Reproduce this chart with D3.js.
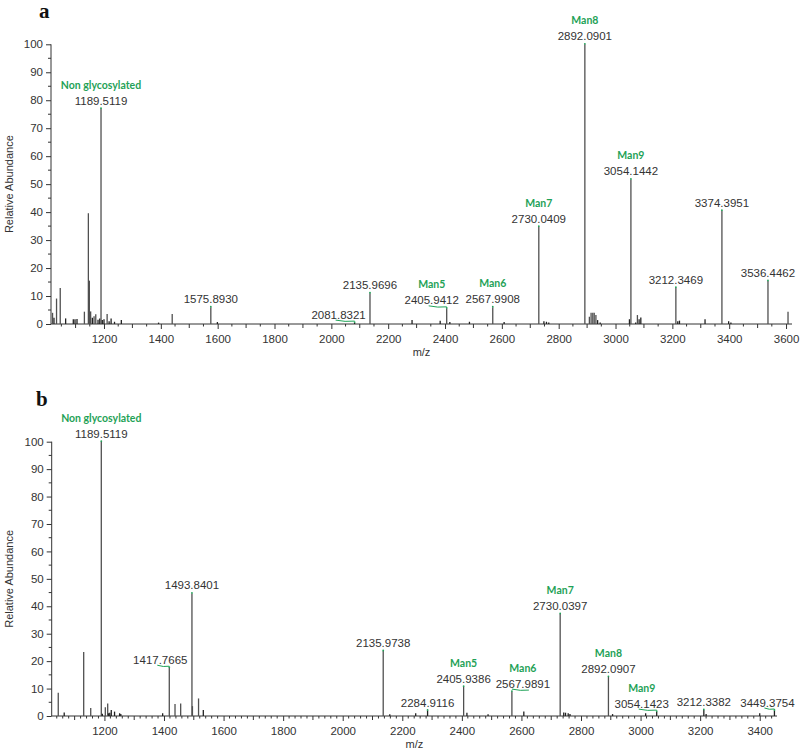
<!DOCTYPE html>
<html><head><meta charset="utf-8">
<script src="https://cdn.jsdelivr.net/npm/d3@7"></script>
<style>body{margin:0;background:#fff}svg{display:block}</style>
</head><body><svg id="c" width="800" height="752"></svg>
<script>
// ---------- Panel a : spectrum ----------
const mzA = [1019,1024,1033,1046,1065,1092,1098,1105,1131,1145,1148.5,1153,1159,1165,1171,1179,1185,1189.5119,1194,1200,1211,1218,1225,1237,1261,1392,1440,1575.8930,1599,2081.8321,2135.9696,2284,2383,2405.9412,2417,2486,2567.9908,2608,2730.0409,2748,2757,2765,2892.0901,2908,2914,2920,2925,2931,2937,2946,3049,3054.1442,3071,3077,3083,3089,3212.3469,3219,3225,3315,3374.3951,3398,3406,3536.4462,3607];
const intA = [4.0,2.2,9.1,12.9,2.0,1.7,1.7,1.8,4.4,39.6,15.5,4.5,2.2,2.8,3.5,1.5,2.0,77.0,1.4,1.7,3.6,1.0,2.0,0.8,1.4,0.5,3.6,6.0,0.7,0.5,11.0,1.4,1.2,5.6,0.7,0.8,6.0,0.7,34.8,1.0,0.8,0.5,100,2.6,4.0,4.0,4.0,3.2,1.4,0.5,1.7,51.7,0.5,3.2,1.7,2.3,13.0,1.0,1.2,1.7,40.5,1.0,0.5,15.4,4.4];
const annMzA = [1189.5119,1575.8930,2081.8321,2135.9696,2405.9412,2567.9908,2730.0409,2892.0901,3054.1442,3212.3469,3374.3951,3536.4462];
const annTextA = ["1189.5119","1575.8930","2081.8321","2135.9696","2405.9412","2567.9908","2730.0409","2892.0901","3054.1442","3212.3469","3374.3951","3536.4462"];
const annNameA = ["Non glycosylated","","","","Man5","Man6","Man7","Man8","Man9","","",""];

// ---------- Panel b : spectrum ----------
const mzB = [1045,1065,1130.4,1154,1189.5119,1193,1203,1211,1214,1218,1223,1234,1251,1255,1395.5,1417.7665,1437,1456,1493.8401,1495.5,1516,1532,2135.9738,2158,2245,2284.9116,2405.9386,2417,2488,2567.9891,2608,2730.0397,2742,2748,2757,2763,2892.0907,2906,3017,3054.1423,3212.3382,3220,3400,3449.3754];
const intB = [8.5,1.3,23.3,2.9,100,0.8,3.2,4.6,1.0,1.2,2.2,1.6,1.0,0.7,1.0,17.6,4.4,4.6,44.7,3.6,6.4,2.2,23.7,0.6,1.0,2.0,10.7,1.2,0.6,8.9,1.6,37.2,1.3,1.2,1.0,0.7,14.3,0.7,1.0,1.6,2.2,0.7,1.0,2.0];
const annMzB = [1189.5119,1417.7665,1493.8401,2135.9738,2284.9116,2405.9386,2567.9891,2730.0397,2892.0907,3054.1423,3212.3382,3449.3754];
const annTextB = ["1189.5119","1417.7665","1493.8401","2135.9738","2284.9116","2405.9386","2567.9891","2730.0397","2892.0907","3054.1423","3212.3382","3449.3754"];
const annNameB = ["Non glycosylated","","","","","Man5","Man6","Man7","Man8","Man9","",""];

// ---------- Axis tick labels ----------
const xTickLabelsA = [1200,1400,1600,1800,2000,2200,2400,2600,2800,3000,3200,3400,3600];
const xTickLabelsB = [1200,1400,1600,1800,2000,2200,2400,2600,2800,3000,3200,3400];
const yTickLabels = [0,10,20,30,40,50,60,70,80,90,100];

// ---------- layout (not data) ----------
const GREEN = "#1fa257";
const svg = d3.select("#c");
const panels = [
  {letter:"a", letterX:39, letterY:18, mz:mzA, it:intA, ann:annMzA, annT:annTextA, annN:annNameA, xl:xTickLabelsA,
   dom:[1013.5,3621], xr:[51,792], yr:[324,44.3], minorStep:50, nudge:{"2081.8321":-16,"2405.9412":-15}},
  {letter:"b", letterX:36, letterY:406, mz:mzB, it:intB, ann:annMzB, annT:annTextB, annN:annNameB, xl:xTickLabelsB,
   dom:[1023,3458], xr:[51.7,777], yr:[716,441.7], minorStep:20, nudge:{"1417.7665":-9,"2567.9891":11,"3054.1423":-15,"3449.3754":-7}}
];

panels.forEach(p => {
  const x = d3.scaleLinear().domain(p.dom).range(p.xr);
  const y = d3.scaleLinear().domain([0,100]).range(p.yr);
  const g = svg.append("g");

  // panel letter
  g.append("text").attr("x",p.letterX).attr("y",p.letterY)
    .attr("font-family","Liberation Serif, DejaVu Serif, serif").attr("font-weight","bold")
    .attr("font-size",21).attr("fill","#111").text(p.letter);

  // y axis
  const yAx = d3.axisLeft(y).tickValues(yTickLabels).tickSize(5).tickPadding(3).tickFormat(d3.format("d"));
  const ya = g.append("g").attr("transform",`translate(${p.xr[0]},0)`).call(yAx);
  ya.select(".domain").attr("stroke","#333").attr("d",`M0,${p.yr[0]}V${p.yr[1]}`);
  ya.selectAll(".tick line").attr("stroke","#333");
  ya.selectAll(".tick text").attr("font-family","Liberation Sans, Arial, sans-serif").attr("font-size",11.5).attr("fill","#333");
  // minor y ticks
  const yMinor = d3.range(5,100,10);
  g.append("g").selectAll("line").data(yMinor).join("line")
    .attr("x1",p.xr[0]-3).attr("x2",p.xr[0]).attr("y1",d=>y(d)).attr("y2",d=>y(d)).attr("stroke","#333");

  // x axis
  const xAx = d3.axisBottom(x).tickValues(p.xl).tickSize(5).tickPadding(6).tickFormat(d3.format("d"));
  const xa = g.append("g").attr("transform",`translate(0,${p.yr[0]})`).call(xAx);
  xa.select(".domain").attr("stroke","#333").attr("d",`M${p.xr[0]},0H${p.xr[1]}`);
  xa.selectAll(".tick line").attr("stroke","#333");
  xa.selectAll(".tick text").attr("font-family","Liberation Sans, Arial, sans-serif").attr("font-size",11.5).attr("fill","#333");
  // minor x ticks
  const xMinor = d3.range(Math.ceil(p.dom[0]/p.minorStep)*p.minorStep, p.dom[1], p.minorStep).filter(v=>v%200!==0);
  g.append("g").selectAll("line").data(xMinor).join("line")
    .attr("x1",d=>x(d)).attr("x2",d=>x(d)).attr("y1",p.yr[0]).attr("y2",d=> p.yr[0] + (d%100===0?4:2.5)).attr("stroke","#333");

  // axis titles
  g.append("text").attr("transform",`translate(13,${(p.yr[0]+p.yr[1])/2}) rotate(-90)`)
    .attr("text-anchor","middle").attr("font-family","Liberation Sans, Arial, sans-serif").attr("font-size",11)
    .attr("fill","#333").text("Relative Abundance");
  g.append("text").attr("x",(p.xr[0]+p.xr[1])/2).attr("y",p.yr[0]+32)
    .attr("text-anchor","middle").attr("font-family","Liberation Sans, Arial, sans-serif").attr("font-size",11)
    .attr("fill","#333").text("m/z");

  // peaks
  const peaks = p.mz.map((m,i)=>({m, v:p.it[i]}));
  g.append("g").selectAll("line").data(peaks).join("line")
    .attr("x1",d=>x(d.m)).attr("x2",d=>x(d.m)).attr("y1",y(0)).attr("y2",d=>y(d.v))
    .attr("stroke",d=>d.v<2.5?"#222":"#505050").attr("stroke-width",1.3);

  // annotations
  p.ann.forEach((m,i)=>{
    const idx = p.mz.indexOf(m);
    const v = p.it[idx];
    const px = x(m), top = y(v);
    const dx = p.nudge[p.annT[i]] || 0;
    const lx = px + dx, base = top - 4;
    g.append("circle").attr("cx",px).attr("cy",top-0.5).attr("r",0.9).attr("fill",GREEN);
    if (dx !== 0) {
      const x0 = dx<0 ? lx-3 : px, x1 = dx<0 ? px : lx+6;
      g.append("path").attr("d",`M${x0},${base+1.5} Q${(x0+x1)/2},${base+3.5} ${x1},${base+2.5}`)
        .attr("fill","none").attr("stroke",GREEN).attr("stroke-width",1);
    }
    g.append("text").attr("x",lx).attr("y",base).attr("text-anchor","middle")
      .attr("font-family","Liberation Sans, Arial, sans-serif").attr("font-size",11.5).attr("fill","#333")
      .text(p.annT[i]);
    if (p.annN[i]) {
      g.append("text").attr("x",lx).attr("y",base-16).attr("text-anchor","middle")
        .attr("font-family","Lato, 'Open Sans', sans-serif").attr("font-weight","bold").attr("font-size",10.5)
        .attr("fill",GREEN).text(p.annN[i]);
    }
  });
});
</script>
</body></html>
